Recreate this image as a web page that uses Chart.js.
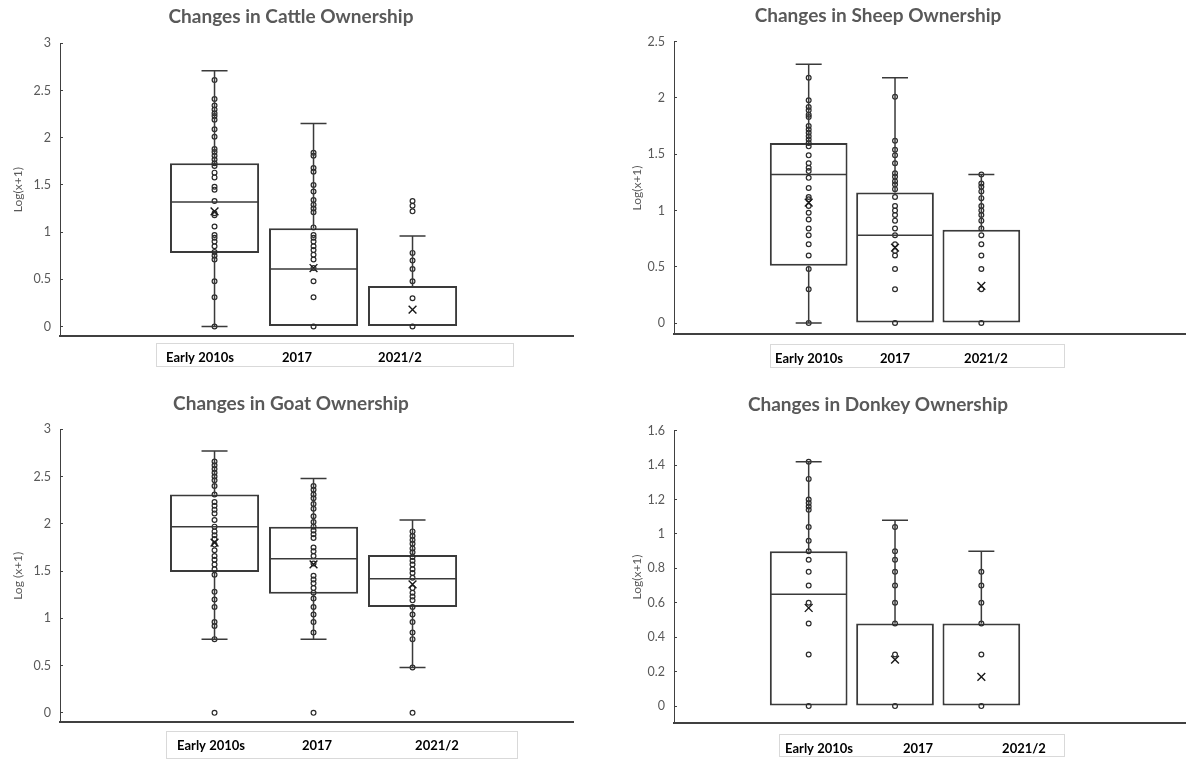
<!DOCTYPE html>
<html>
<head>
<meta charset="utf-8">
<script src="https://cdn.jsdelivr.net/npm/chart.js@4.4.1/dist/chart.umd.min.js"></script>
<style>
  body { margin: 0; background: #fff; }
  #wrap { position: relative; width: 1192px; height: 760px; overflow: hidden; }
  canvas { position: absolute; }
</style>
</head>
<body>
<div id="wrap">
  <canvas id="cattle" width="596" height="380" style="left:0;top:0"></canvas>
  <canvas id="sheep" width="636" height="380" style="left:556px;top:0"></canvas>
  <canvas id="goat" width="596" height="380" style="left:0;top:380px"></canvas>
  <canvas id="donkey" width="636" height="380" style="left:556px;top:380px"></canvas>
</div>
<script>
const periods = ['Early 2010s', '2017', '2021/2'];

// cattle
const cattleEarly = [2.61, 2.41, 2.34, 2.30, 2.26, 2.23, 2.19, 2.09, 2.01, 1.88, 1.85, 1.81, 1.77, 1.73, 1.70, 1.63, 1.58, 1.48, 1.45, 1.33, 1.20, 1.18, 1.06, 0.97, 0.94, 0.90, 0.85, 0.79, 0.75, 0.71, 0.48, 0.31, 0];
const cattle2017 = [1.84, 1.81, 1.68, 1.64, 1.50, 1.43, 1.34, 1.29, 1.25, 1.21, 1.05, 0.97, 0.94, 0.90, 0.85, 0.81, 0.76, 0.71, 0.62, 0.48, 0.31, 0];
const cattle2021 = [1.33, 1.28, 1.22, 0.78, 0.70, 0.61, 0.48, 0.30, 0];
const cattleLow = [0, 0, 0];
const cattleQ1 = [0.78, 0, 0];
const cattleMedian = [1.32, 0.61, 0];
const cattleQ3 = [1.73, 1.04, 0.43];
const cattleHigh = [2.71, 2.15, 0.96];
const cattleMean = [1.22, 0.62, 0.18];
const cattleTicks = [0, 0.5, 1, 1.5, 2, 2.5, 3];

// sheep
const sheepEarly = [2.18, 1.98, 1.92, 1.89, 1.85, 1.83, 1.75, 1.72, 1.69, 1.66, 1.63, 1.60, 1.57, 1.49, 1.42, 1.38, 1.35, 1.29, 1.20, 1.12, 1.10, 1.04, 0.98, 0.92, 0.84, 0.78, 0.70, 0.60, 0.48, 0.30, 0];
const sheep2017 = [2.01, 1.62, 1.54, 1.49, 1.42, 1.33, 1.30, 1.26, 1.23, 1.19, 1.12, 1.04, 1.00, 0.96, 0.91, 0.84, 0.78, 0.70, 0.64, 0.60, 0.48, 0.30, 0];
const sheep2021 = [1.32, 1.24, 1.21, 1.17, 1.11, 1.04, 1.00, 0.96, 0.91, 0.84, 0.78, 0.70, 0.60, 0.48, 0.30, 0];
const sheepLow = [0, 0, 0];
const sheepQ1 = [0.51, 0, 0];
const sheepMedian = [1.32, 0.78, 0];
const sheepQ3 = [1.60, 1.16, 0.83];
const sheepHigh = [2.30, 2.18, 1.32];
const sheepMean = [1.07, 0.67, 0.33];
const sheepTicks = [0, 0.5, 1, 1.5, 2, 2.5];

// goat
const goatEarly = [2.66, 2.62, 2.58, 2.54, 2.50, 2.46, 2.40, 2.31, 2.23, 2.19, 2.15, 2.11, 2.04, 1.97, 1.92, 1.88, 1.84, 1.78, 1.72, 1.66, 1.62, 1.57, 1.52, 1.46, 1.28, 1.20, 1.12, 0.96, 0.92, 0.78, 0];
const goat2017 = [2.40, 2.36, 2.31, 2.27, 2.21, 2.16, 2.08, 2.02, 1.97, 1.93, 1.89, 1.85, 1.75, 1.71, 1.66, 1.58, 1.45, 1.41, 1.37, 1.32, 1.27, 1.21, 1.12, 1.04, 0.96, 0.85, 0];
const goat2021 = [1.92, 1.87, 1.83, 1.79, 1.74, 1.70, 1.65, 1.61, 1.57, 1.52, 1.48, 1.43, 1.32, 1.27, 1.23, 1.19, 1.12, 1.04, 0.96, 0.85, 0.78, 0.48, 0];
const goatLow = [0.78, 0.78, 0.48];
const goatQ1 = [1.49, 1.26, 1.12];
const goatMedian = [1.97, 1.63, 1.42];
const goatQ3 = [2.31, 1.97, 1.67];
const goatHigh = [2.77, 2.48, 2.04];
const goatMean = [1.80, 1.57, 1.36];
const goatTicks = [0, 0.5, 1, 1.5, 2, 2.5, 3];

// donkey
const donkeyEarly = [1.42, 1.32, 1.20, 1.18, 1.16, 1.14, 1.04, 0.96, 0.90, 0.85, 0.78, 0.70, 0.60, 0.48, 0.30, 0];
const donkey2017 = [1.04, 0.90, 0.85, 0.78, 0.70, 0.60, 0.48, 0.30, 0];
const donkey2021 = [0.78, 0.70, 0.60, 0.48, 0.30, 0];
const donkeyLow = [0, 0, 0];
const donkeyQ1 = [0, 0, 0];
const donkeyMedian = [0.65, 0, 0];
const donkeyQ3 = [0.90, 0.48, 0.48];
const donkeyHigh = [1.42, 1.08, 0.90];
const donkeyMean = [0.57, 0.27, 0.17];
const donkeyTicks = [0, 0.2, 0.4, 0.6, 0.8, 1, 1.2, 1.4, 1.6];

const LINE = '#3a3a3a';
const GREY = '#595959';
const CAP = 13; // half width of whisker caps, px

function drawBoxChart(id, title, yTitle, points, low, q1, median, q3, high, mean, yTicks, lay) {
  const boxData = periods.map((p, i) => ({ x: i + 1, y: [q1[i], q3[i]] }));
  const pointData = points.flatMap((vals, i) => vals.map(v => ({ x: i + 1, y: v })));
  const meanData = mean.map((v, i) => ({ x: i + 1, y: v }));

  // whiskers, caps and median line, placed with the chart's scales
  const boxParts = {
    id: 'boxParts',
    afterDatasetsDraw(chart) {
      const { ctx, scales: { x, y } } = chart;
      const bars = chart.getDatasetMeta(0).data;
      ctx.save();
      ctx.strokeStyle = LINE;
      ctx.lineWidth = 1.5;
      periods.forEach((p, i) => {
        const cx = x.getPixelForValue(i + 1);
        const half = bars[i].width / 2;
        const yHi = y.getPixelForValue(high[i]);
        const yLo = y.getPixelForValue(low[i]);
        ctx.beginPath();
        ctx.moveTo(cx, y.getPixelForValue(q3[i]));
        ctx.lineTo(cx, yHi);
        ctx.moveTo(cx, y.getPixelForValue(q1[i]));
        ctx.lineTo(cx, yLo);
        ctx.moveTo(cx - CAP, yHi);
        ctx.lineTo(cx + CAP, yHi);
        if (low[i] < q1[i]) {
          ctx.moveTo(cx - CAP, yLo);
          ctx.lineTo(cx + CAP, yLo);
        }
        // median only when it is not already the box edge
        if (median[i] > q1[i] && median[i] < q3[i]) {
          const yMed = y.getPixelForValue(median[i]);
          ctx.moveTo(cx - half + 1, yMed);
          ctx.lineTo(cx + half - 1, yMed);
        }
        ctx.stroke();
      });
      ctx.restore();
    },
    // category labels sit in a separate framed strip under the axis
    afterDraw(chart) {
      const ctx = chart.ctx;
      const [l, t, r, b] = lay.labelBox;
      ctx.save();
      ctx.strokeStyle = '#d9d9d9';
      ctx.lineWidth = 1;
      ctx.strokeRect(l + 0.5, t + 0.5, r - l, b - t);
      ctx.fillStyle = '#000';
      ctx.font = 'bold 13px Lato';
      ctx.textAlign = 'center';
      ctx.textBaseline = 'middle';
      periods.forEach((p, i) => ctx.fillText(p, lay.labelX[i], lay.labelY));
      ctx.restore();
    }
  };

  new Chart(document.getElementById(id), {
    type: 'bar',
    data: {
      datasets: [
        {
          label: 'box',
          data: boxData,
          backgroundColor: '#fff',
          borderColor: LINE,
          borderWidth: 2,
          borderSkipped: false,
          barPercentage: 0.9,
          categoryPercentage: 1,
          order: 3
        },
        {
          type: 'scatter',
          label: 'points',
          data: pointData,
          pointStyle: 'circle',
          pointRadius: 2.4,
          pointBorderWidth: 1.2,
          pointBorderColor: '#2b2b2b',
          pointBackgroundColor: 'rgba(0,0,0,0)',
          order: 2
        },
        {
          type: 'scatter',
          label: 'mean',
          data: meanData,
          pointStyle: 'crossRot',
          pointRadius: 5.5,
          pointBorderWidth: 1.4,
          pointBorderColor: '#1a1a1a',
          order: 1
        }
      ]
    },
    options: {
      responsive: false,
      animation: false,
      layout: { padding: { left: lay.padL, right: lay.padR, top: 0, bottom: 0 } },
      plugins: {
        legend: { display: false },
        tooltip: { enabled: false },
        title: {
          display: true,
          text: title,
          color: GREY,
          font: { family: 'Lato', size: 19, weight: 'bold' },
          padding: { top: lay.titleTop, bottom: lay.titleBottom }
        }
      },
      scales: {
        x: {
          type: 'linear',
          offset: false,
          min: lay.xMin,
          max: lay.xMax,
          afterBuildTicks: axis => { axis.ticks = periods.map((p, i) => ({ value: i + 1 })); },
          afterFit: axis => { axis.height = lay.xH; },
          ticks: { display: false },
          grid: { drawOnChartArea: false, drawTicks: false },
          border: { display: true, color: '#404040', width: 2 }
        },
        y: {
          min: -0.1,
          max: yTicks[yTicks.length - 1],
          afterBuildTicks: axis => { axis.ticks = yTicks.map(v => ({ value: v })); },
          afterFit: axis => { axis.width = lay.yW; },
          ticks: {
            color: GREY,
            font: { family: 'Lato', size: 12.5 },
            padding: 12,
            callback: v => String(v)
          },
          grid: { drawOnChartArea: false, drawTicks: true, tickLength: -3, color: '#404040' },
          border: { display: true, color: '#404040', width: 1 },
          title: {
            display: true,
            text: yTitle,
            color: GREY,
            font: { family: 'Lato', size: 12 },
            padding: { top: lay.yTitlePad, bottom: 0 }
          }
        }
      }
    },
    plugins: [boxParts]
  });
}

drawBoxChart('cattle', 'Changes in Cattle Ownership', 'Log(x+1)',
  [cattleEarly, cattle2017, cattle2021], cattleLow, cattleQ1, cattleMedian, cattleQ3, cattleHigh, cattleMean, cattleTicks,
  { padL: 9, padR: 23, yW: 51, xH: 44, titleTop: 5.6, titleBottom: 14.9, yTitlePad: 1.5, xMin: -0.561, xMax: 4.621,
    labelBox: [156, 343, 513, 366], labelX: [200, 297, 400], labelY: 358 });

drawBoxChart('sheep', 'Changes in Sheep Ownership', 'Log(x+1)',
  [sheepEarly, sheep2017, sheep2021], sheepLow, sheepQ1, sheepMedian, sheepQ3, sheepHigh, sheepMean, sheepTicks,
  { padL: 8, padR: 0, yW: 110, xH: 45.7, titleTop: 4.3, titleBottom: 14.6, yTitlePad: 65.5, xMin: -0.56, xMax: 5.36,
    labelBox: [214, 344, 508, 367], labelX: [253, 339, 430], labelY: 359 });

drawBoxChart('goat', 'Changes in Goat Ownership', 'Log (x+1)',
  [goatEarly, goat2017, goat2021], goatLow, goatQ1, goatMedian, goatQ3, goatHigh, goatMean, goatTicks,
  { padL: 9, padR: 23, yW: 51, xH: 37.7, titleTop: 12.6, titleBottom: 13.9, yTitlePad: 1.5, xMin: -0.561, xMax: 4.621,
    labelBox: [166, 351, 517, 378], labelX: [211, 317, 437], labelY: 366 });

drawBoxChart('donkey', 'Changes in Donkey Ownership', 'Log(x+1)',
  [donkeyEarly, donkey2017, donkey2021], donkeyLow, donkeyQ1, donkeyMedian, donkeyQ3, donkeyHigh, donkeyMean, donkeyTicks,
  { padL: 8, padR: 0, yW: 110, xH: 36.7, titleTop: 13.6, titleBottom: 14.3, yTitlePad: 65.5, xMin: -0.56, xMax: 5.36,
    labelBox: [223, 354, 508, 376], labelX: [263, 362, 468], labelY: 369 });
</script>
</body>
</html>
